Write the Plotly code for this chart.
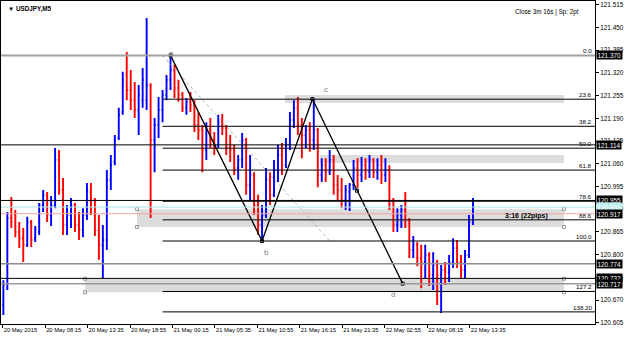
import plotly.graph_objects as go
import pandas as pd

# ---- data (30-minute bars) ----
bar_start = "2015-05-20 03:00"
opens = [120.656,120.704,120.905,120.913,120.865,120.847,120.828,120.893,120.847,120.865,
         120.942,120.968,120.913,120.942,121.071,120.985,120.885,120.913,120.942,120.885,
         120.870,120.913,120.979,120.956,120.870,120.828,120.842,121.014,121.065,121.134,
         121.208,121.314,121.271,121.242,121.214,121.242,121.242,121.285,121.128,121.171,
         121.214,121.257,121.300,121.328,121.277,121.257,121.220,121.237,121.228,121.171,
         121.157,121.099,121.157,121.128,121.114,121.179,121.162,121.105,121.099,121.048,
         121.071,121.128,120.999,121.028,120.942,120.885,120.913,121.014,120.971,121.042,
         121.085,121.056,121.114,121.185,121.220,121.171,121.142,121.157,121.128,121.157,
         121.028,121.056,121.036,121.071,120.999,120.985,120.956,120.979,120.999,121.048,
         121.028,121.056,121.036,121.071,121.036,121.056,121.028,121.042,120.956,120.885,
         120.913,120.928,120.899,120.813,120.828,120.790,120.779,120.799,120.742,120.770,
         120.742,120.756,120.750,120.779,120.819,120.779,120.756,120.799,120.893]
highs = [120.727,120.922,120.965,120.928,120.893,120.876,120.908,120.899,120.882,120.948,
         120.985,120.979,120.968,121.105,121.099,121.019,120.942,120.962,120.948,120.922,
         120.933,121.005,121.005,120.962,120.913,120.885,121.042,121.085,121.142,121.220,
         121.323,121.380,121.328,121.294,121.285,121.334,121.477,121.290,121.191,121.251,
         121.271,121.314,121.370,121.343,121.300,121.265,121.248,121.265,121.242,121.208,
         121.171,121.179,121.191,121.151,121.200,121.202,121.171,121.142,121.114,121.085,
         121.148,121.134,121.085,121.036,120.971,120.942,121.048,121.036,121.071,121.114,
         121.119,121.134,121.208,121.242,121.251,121.191,121.171,121.179,121.245,121.162,
         121.076,121.076,121.099,121.085,121.028,121.019,120.999,121.005,121.071,121.076,
         121.079,121.076,121.085,121.076,121.076,121.085,121.076,121.056,120.962,120.933,
         120.942,120.979,120.905,120.853,120.836,120.828,120.828,120.807,120.807,120.785,
         120.770,120.779,120.799,120.847,120.842,120.799,120.813,120.913,120.962]
lows = [120.627,120.699,120.876,120.850,120.819,120.779,120.822,120.822,120.836,120.856,
        120.922,120.893,120.882,120.933,120.971,120.856,120.856,120.876,120.865,120.842,
        120.850,120.899,120.913,120.853,120.785,120.733,120.813,120.985,121.056,121.128,
        121.200,121.242,121.214,121.191,121.142,121.220,121.214,120.905,121.036,121.134,
        121.179,121.242,121.271,121.248,121.237,121.208,121.200,121.208,121.151,121.128,
        121.036,121.071,121.105,121.085,121.105,121.142,121.085,121.065,121.028,121.014,
        121.048,120.971,120.956,120.913,120.856,120.839,120.905,120.942,120.965,121.008,
        121.028,121.048,121.099,121.162,121.142,121.076,121.105,121.094,121.099,120.993,
        121.008,121.008,121.028,120.971,120.956,120.933,120.928,120.925,120.985,120.991,
        121.008,121.014,121.019,121.019,121.014,121.002,121.008,120.928,120.865,120.865,
        120.876,120.876,120.790,120.790,120.767,120.704,120.733,120.710,120.699,120.656,
        120.633,120.713,120.722,120.762,120.762,120.733,120.733,120.790,120.885]
closes = [120.713,120.905,120.893,120.865,120.847,120.828,120.893,120.842,120.870,120.942,
          120.971,120.913,120.942,121.071,120.985,120.885,120.913,120.942,120.885,120.870,
          120.913,120.985,120.956,120.870,120.828,120.842,121.014,121.056,121.128,121.200,
          121.300,121.271,121.242,121.214,121.257,121.300,121.285,121.128,121.171,121.214,
          121.257,121.300,121.328,121.277,121.257,121.220,121.237,121.228,121.171,121.157,
          121.099,121.157,121.128,121.114,121.179,121.162,121.105,121.099,121.048,121.071,
          121.128,120.999,121.028,120.942,120.885,120.913,121.014,120.971,121.042,121.085,
          121.056,121.114,121.185,121.220,121.171,121.142,121.157,121.128,121.157,121.028,
          121.056,121.036,121.071,120.999,120.985,120.956,120.985,120.999,121.048,121.028,
          121.056,121.036,121.071,121.036,121.056,121.028,121.042,120.956,120.885,120.913,
          120.928,120.899,120.813,120.828,120.790,120.779,120.799,120.742,120.770,120.742,
          120.756,120.750,120.779,120.819,120.779,120.756,120.799,120.893,120.936]

tick_times = ["2015-05-20 02:55","2015-05-20 08:15","2015-05-20 13:35","2015-05-20 18:55",
              "2015-05-21 00:15","2015-05-21 05:35","2015-05-21 10:55","2015-05-21 16:15",
              "2015-05-21 21:35","2015-05-22 02:55","2015-05-22 08:15","2015-05-22 13:35"]
tick_text = ["20 May 2015","20 May 08:15","20 May 13:35","20 May 18:55","21 May 00:15",
             "21 May 05:35","21 May 10:55","21 May 16:15","21 May 21:35","22 May 02:55",
             "22 May 08:15","22 May 13:35"]
price_ticks = [121.515,121.450,121.385,121.320,121.255,121.190,121.125,121.060,120.995,
               120.930,120.865,120.800,120.735,120.670,120.605]

# ABCD pattern
pat_times = ["2015-05-21 00:00","2015-05-21 11:30","2015-05-21 17:50","2015-05-22 05:10"]
pat_prices = [121.370,120.839,121.245,120.717]
pat_labels = ["a","b","c","d"]
lab_times = ["2015-05-21 00:05","2015-05-21 12:00","2015-05-21 19:32","2015-05-22 03:57"]
lab_prices = [121.374,120.805,121.271,120.687]
mid_time, mid_price = "2015-05-21 23:25", 120.983

# Fibonacci
fib_start = "2015-05-20 23:00"
fib_end = "2015-05-21 20:00"
fib_high, fib_low = 121.370, 120.839
fib_levels = [0.0,23.6,38.2,50.0,61.8,78.6,88.6,100.0,127.2,138.2]
fib_text = ["0.0","23.6","38.2","50.0","61.8","78.6","88.6","100.0","127.2","138.20"]

# horizontal lines (price, colour, width)
hlines = [(121.370,"#a0a0a0",2),(121.114,"black",1),(120.955,"black",1),
          (120.936,"#a8e4e4",1),(120.917,"#f2a8a8",1),(120.774,"#8c8c8c",1.5),
          (120.732,"black",1),(120.717,"#999999",1.5)]
box_labels = [(121.370,"black","white"),(121.114,"black","white"),(120.955,"black","white"),
              (120.936,"#bdeeee","white"),(120.917,"black","white"),(120.774,"black","white"),
              (120.732,"black","white"),(120.717,"black","white")]

# zones (start, end, top, bottom)
zones = [("2015-05-21 14:23","2015-05-23 01:26",121.257,121.234),
         ("2015-05-21 18:47","2015-05-23 01:26",121.085,121.062),
         ("2015-05-20 19:47","2015-05-23 01:26",120.930,120.879),
         ("2015-05-20 13:15","2015-05-23 01:26",120.731,120.692)]

x_range = ["2015-05-20 02:42:11","2015-05-23 05:19:50"]
y_range = [120.6015,121.5256]

FONT = "Liberation Sans, Arial, sans-serif"
times = pd.date_range(bar_start, periods=len(opens), freq="30min")

fig = go.Figure()
fig.add_trace(go.Ohlc(x=times, open=opens, high=highs, low=lows, close=closes,
                      increasing=dict(line=dict(color="#0000ff", width=1.9)),
                      decreasing=dict(line=dict(color="#ff0000", width=1.9)),
                      tickwidth=0.3, hoverinfo="skip"))

# zones
for t0, t1, p0, p1 in zones:
    fig.add_shape(type="rect", xref="x", yref="y", x0=t0, x1=t1, y0=p0, y1=p1,
                  fillcolor="#dcdcdc", line=dict(width=0), layer="below")
for t0, t1, p0, p1 in zones[2:]:
    for pp in (p0, p1):
        fig.add_trace(go.Scatter(x=[t0, t1], y=[pp, pp], mode="markers",
                                 marker=dict(symbol="square-open", size=3, color="#9a9a9a",
                                             line=dict(width=1)), hoverinfo="skip"))

# horizontal lines
for p, c, w in hlines:
    fig.add_shape(type="line", xref="paper", yref="y", x0=0, x1=1, y0=p, y1=p,
                  line=dict(color=c, width=w))

# fib levels
for lv, tx in zip(fib_levels, fib_text):
    p = fib_high - lv / 100.0 * (fib_high - fib_low)
    if lv != 0.0:
        fig.add_shape(type="line", xref="x", yref="y", x0=fib_start, x1=x_range[1],
                      y0=p, y1=p, line=dict(color="black", width=1))
    fig.add_annotation(xref="paper", x=1, xanchor="right", xshift=-2, yref="y", y=p,
                       yanchor="bottom", text=tx, showarrow=False,
                       font=dict(family=FONT, size=6.2, color="black"), borderpad=0)
fig.add_trace(go.Scatter(x=[fib_start, fib_end], y=[fib_high, fib_low], mode="lines",
                         line=dict(color="#b4b4b4", width=1, dash="dot"), hoverinfo="skip"))

# ABCD zigzag
fig.add_trace(go.Scatter(x=pat_times, y=pat_prices, mode="lines+markers",
                         line=dict(color="black", width=1.3),
                         marker=dict(symbol="square-open", size=3, color="black",
                                     line=dict(width=1)), hoverinfo="skip"))
fig.add_trace(go.Scatter(x=[mid_time], y=[mid_price], mode="markers",
                         marker=dict(symbol="square-open", size=3, color="black",
                                     line=dict(width=1)), hoverinfo="skip"))
for t, p, s in zip(lab_times, lab_prices, pat_labels):
    fig.add_annotation(x=t, y=p, text=s, showarrow=False,
                       font=dict(family=FONT, size=8, color="#808080"))

fig.add_annotation(x="2015-05-22 20:47", y=120.910, text="<b>3:16 (22pips)</b>", showarrow=False,
                   font=dict(family=FONT, size=7, color="black"))

# price boxes on the right axis
for p, bg, fc in box_labels:
    fig.add_annotation(xref="paper", x=1, xanchor="left", xshift=1, yref="y", y=p,
                       text=f"{p:.3f}", showarrow=False, bgcolor=bg, borderpad=0.5,
                       font=dict(family=FONT, size=6.4, color=fc))

# header texts
fig.add_annotation(xref="paper", yref="paper", x=0.008, y=0.995, xanchor="left", yanchor="top",
                   text="<b>▼ USDJPY,M5</b>", showarrow=False,
                   font=dict(family=FONT, size=6.3, color="black"))
fig.add_annotation(xref="paper", yref="paper", x=0.977, y=0.985, xanchor="right", yanchor="top",
                   text="Close 3m 16s | Sp: 2pt", showarrow=False,
                   font=dict(family=FONT, size=6.3, color="black"))

fig.update_layout(width=625, height=338, margin=dict(l=1, r=30, t=1, b=14),
                  paper_bgcolor="white", plot_bgcolor="white", showlegend=False,
                  font=dict(family=FONT, size=6.4, color="black"))
fig.update_xaxes(type="date", range=x_range, tickvals=tick_times, ticktext=tick_text,
                 ticks="outside", ticklen=3, tickcolor="black", showgrid=False,
                 showline=True, linecolor="black", linewidth=1, mirror=True,
                 rangeslider=dict(visible=False), ticklabelposition="outside right",
                 tickangle=0, automargin=False,
                 tickfont=dict(family=FONT, size=5.8, color="black"), zeroline=False)
fig.update_yaxes(side="right", range=y_range, tickvals=price_ticks,
                 ticktext=[f"{v:.3f}" for v in price_ticks], ticks="outside", ticklen=3,
                 tickcolor="black", showgrid=False, showline=True, linecolor="black",
                 linewidth=1, mirror=True, zeroline=False, automargin=False,
                 tickfont=dict(family=FONT, size=6.4, color="black"))

fig.write_html("out.html")
